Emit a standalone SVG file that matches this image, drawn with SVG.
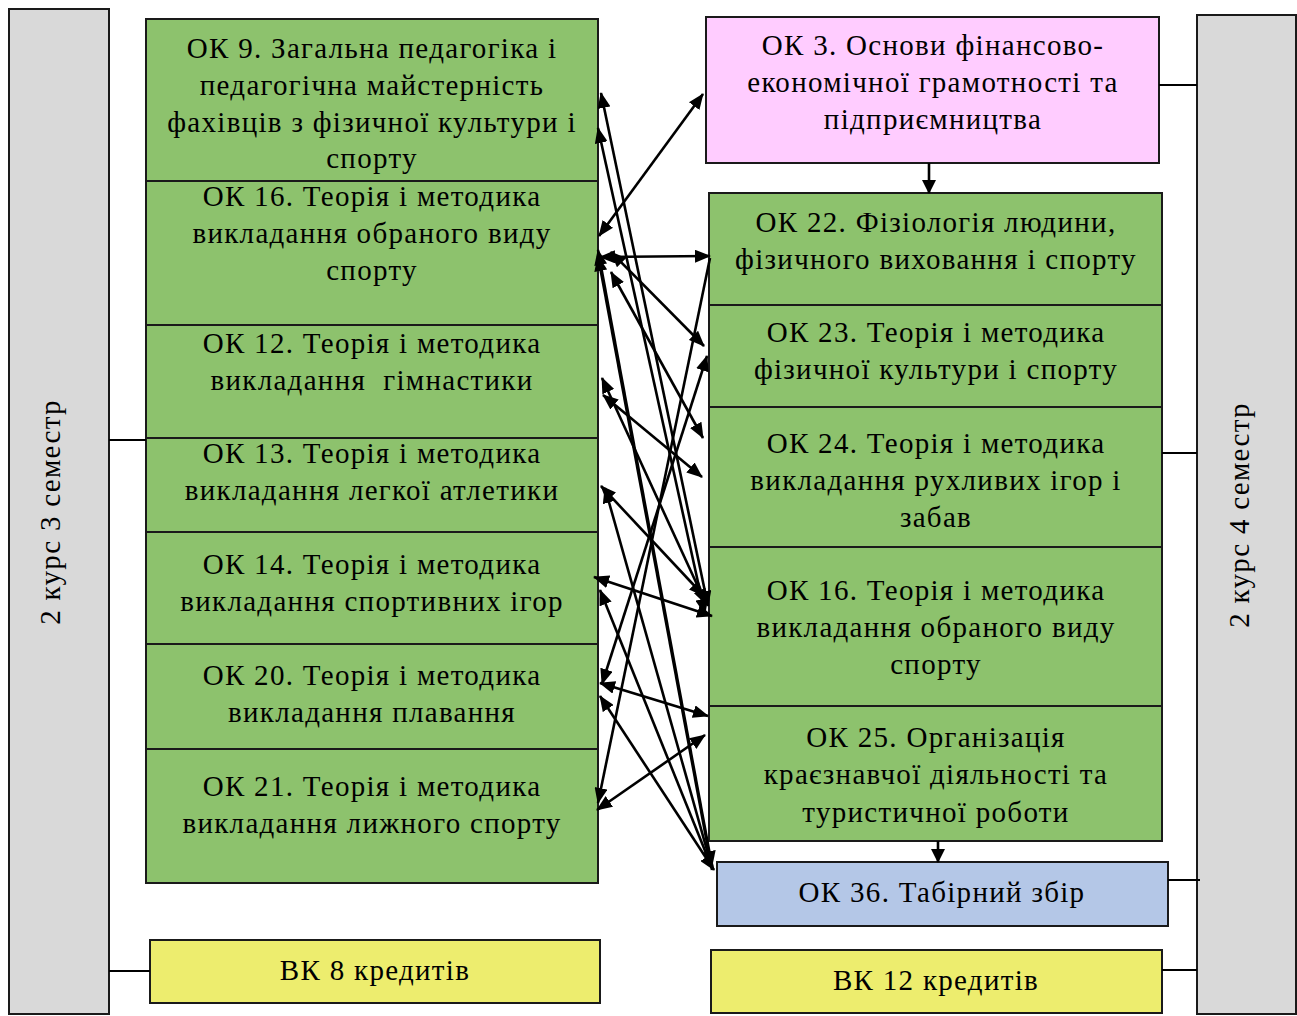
<svg xmlns="http://www.w3.org/2000/svg" width="1297" height="1016" viewBox="0 0 1297 1016">
<style>
.bx{stroke:#1a1a1a;stroke-width:2}
.g{fill:#8DC26D}
.gr{fill:#D9D9D9}
.pk{fill:#FFCCFF}
.bl{fill:#B4C7E7}
.yl{fill:#EDED6E}
text{font-family:"Liberation Serif","Times New Roman",serif;font-size:29px;letter-spacing:1.3px;fill:#000;text-anchor:middle}
.c line{stroke:#000;stroke-width:2.6}
.a{marker-end:url(#ah)}
.d{marker-start:url(#as);marker-end:url(#ah)}
</style>
<defs>
<marker id="ah" markerWidth="16" markerHeight="13" refX="15" refY="6.5" orient="auto" markerUnits="userSpaceOnUse" viewBox="0 0 16 13"><path d="M0,0 L16,6.5 L0,13 z" fill="#000"/></marker>
<marker id="as" markerWidth="16" markerHeight="13" refX="1" refY="6.5" orient="auto" markerUnits="userSpaceOnUse" viewBox="0 0 16 13"><path d="M16,0 L0,6.5 L16,13 z" fill="#000"/></marker>
<marker id="ad" markerWidth="14" markerHeight="14" refX="13" refY="7" orient="auto" markerUnits="userSpaceOnUse" viewBox="0 0 14 14"><path d="M0,0 L14,7 L0,14 z" fill="#000"/></marker>
</defs>
<rect width="1297" height="1016" fill="#fff"/>

<g id="sem3">
<rect class="bx gr" x="9" y="9" width="100" height="1005"/>
<text transform="translate(60,512) rotate(-90)">2 курс 3 семестр</text>
</g>
<g id="sem4">
<rect class="bx gr" x="1197" y="15" width="99" height="999"/>
<text transform="translate(1249,515) rotate(-90)">2 курс 4 семестр</text>
</g>

<g id="ok9"><rect class="bx g" x="146" y="19" width="452" height="162"/>
<text x="372" y="58">ОК 9. Загальна педагогіка і</text>
<text x="372" y="95">педагогічна майстерність</text>
<text x="372" y="132">фахівців з фізичної культури і</text>
<text x="372" y="168">спорту</text></g>
<g id="ok16l"><rect class="bx g" x="146" y="181" width="452" height="144"/>
<text x="372" y="206">ОК 16. Теорія і методика</text>
<text x="372" y="243">викладання обраного виду</text>
<text x="372" y="280">спорту</text></g>
<g id="ok12"><rect class="bx g" x="146" y="325" width="452" height="113"/>
<text x="372" y="353">ОК 12. Теорія і методика</text>
<text x="372" y="390" xml:space="preserve">викладання  гімнастики</text></g>
<g id="ok13"><rect class="bx g" x="146" y="438" width="452" height="94"/>
<text x="372" y="463">ОК 13. Теорія і методика</text>
<text x="372" y="500">викладання легкої атлетики</text></g>
<g id="ok14"><rect class="bx g" x="146" y="532" width="452" height="112"/>
<text x="372" y="574">ОК 14. Теорія і методика</text>
<text x="372" y="611">викладання спортивних ігор</text></g>
<g id="ok20"><rect class="bx g" x="146" y="644" width="452" height="105"/>
<text x="372" y="685">ОК 20. Теорія і методика</text>
<text x="372" y="722">викладання плавання</text></g>
<g id="ok21"><rect class="bx g" x="146" y="749" width="452" height="134"/>
<text x="372" y="796">ОК 21. Теорія і методика</text>
<text x="372" y="833">викладання лижного спорту</text></g>

<g id="ok3"><rect class="bx pk" x="706" y="17" width="453" height="146"/>
<text x="933" y="55">ОК 3. Основи фінансово-</text>
<text x="933" y="92">економічної грамотності та</text>
<text x="933" y="129">підприємництва</text></g>
<g id="ok22"><rect class="bx g" x="709" y="193" width="453" height="112"/>
<text x="936" y="232">ОК 22. Фізіологія людини,</text>
<text x="936" y="269">фізичного виховання і спорту</text></g>
<g id="ok23"><rect class="bx g" x="709" y="305" width="453" height="102"/>
<text x="936" y="342">ОК 23. Теорія і методика</text>
<text x="936" y="379">фізичної культури і спорту</text></g>
<g id="ok24"><rect class="bx g" x="709" y="407" width="453" height="140"/>
<text x="936" y="453">ОК 24. Теорія і методика</text>
<text x="936" y="490">викладання рухливих ігор і</text>
<text x="936" y="527">забав</text></g>
<g id="ok16r"><rect class="bx g" x="709" y="547" width="453" height="159"/>
<text x="936" y="600">ОК 16. Теорія і методика</text>
<text x="936" y="637">викладання обраного виду</text>
<text x="936" y="674">спорту</text></g>
<g id="ok25"><rect class="bx g" x="709" y="706" width="453" height="135"/>
<text x="936" y="747">ОК 25. Організація</text>
<text x="936" y="784">краєзнавчої діяльності та</text>
<text x="936" y="822">туристичної роботи</text></g>
<g id="ok36"><rect class="bx bl" x="717" y="862" width="451" height="64"/>
<text x="942" y="902">ОК 36. Табірний збір</text></g>
<g id="vk8"><rect class="bx yl" x="150" y="940" width="450" height="63"/>
<text x="375" y="980">ВК 8 кредитів</text></g>
<g id="vk12"><rect class="bx yl" x="711" y="950" width="451" height="63"/>
<text x="936" y="990">ВК 12 кредитів</text></g>

<g id="connectors" class="c">
<line x1="109" y1="440" x2="146" y2="440" style="stroke-width:2"/>
<line x1="109" y1="971" x2="150" y2="971" style="stroke-width:2"/>
<line x1="1159" y1="85" x2="1197" y2="85" style="stroke-width:2"/>
<line x1="1162" y1="453" x2="1197" y2="453" style="stroke-width:2"/>
<line x1="1168" y1="880" x2="1200" y2="880" style="stroke-width:2"/>
<line x1="1162" y1="970" x2="1197" y2="970" style="stroke-width:2"/>
<line x1="929" y1="163" x2="929" y2="193" marker-end="url(#ad)"/>
<line x1="938" y1="841" x2="938" y2="862" marker-end="url(#ad)"/>

<line class="d" x1="599" y1="236" x2="703" y2="94"/>
<line class="d" x1="708" y1="606" x2="601" y2="93"/>
<line class="d" x1="705" y1="614" x2="598" y2="128"/>
<line class="d" x1="600" y1="257" x2="710" y2="256"/>
<line class="d" x1="611" y1="252" x2="704" y2="346"/>
<line class="d" x1="611" y1="272" x2="703" y2="438"/>
<line class="d" x1="598" y1="250" x2="712" y2="866"/>
<line class="a" x1="712" y1="870" x2="598" y2="256"/>
<line class="d" x1="602" y1="378" x2="706" y2="604"/>
<line class="d" x1="603" y1="395" x2="702" y2="477"/>
<line class="d" x1="601" y1="486" x2="704" y2="596"/>
<line class="a" x1="712" y1="868" x2="605" y2="488"/>
<line class="d" x1="594" y1="577" x2="712" y2="616"/>
<line class="a" x1="712" y1="868" x2="600" y2="590"/>
<line class="d" x1="600" y1="683" x2="708" y2="716"/>
<line class="d" x1="600" y1="696" x2="714" y2="870"/>
<line class="d" x1="597" y1="810" x2="705" y2="735"/>
<line class="a" x1="710" y1="258" x2="598" y2="803"/>
<line class="d" x1="707" y1="356" x2="602" y2="684"/>
</g>
</svg>
